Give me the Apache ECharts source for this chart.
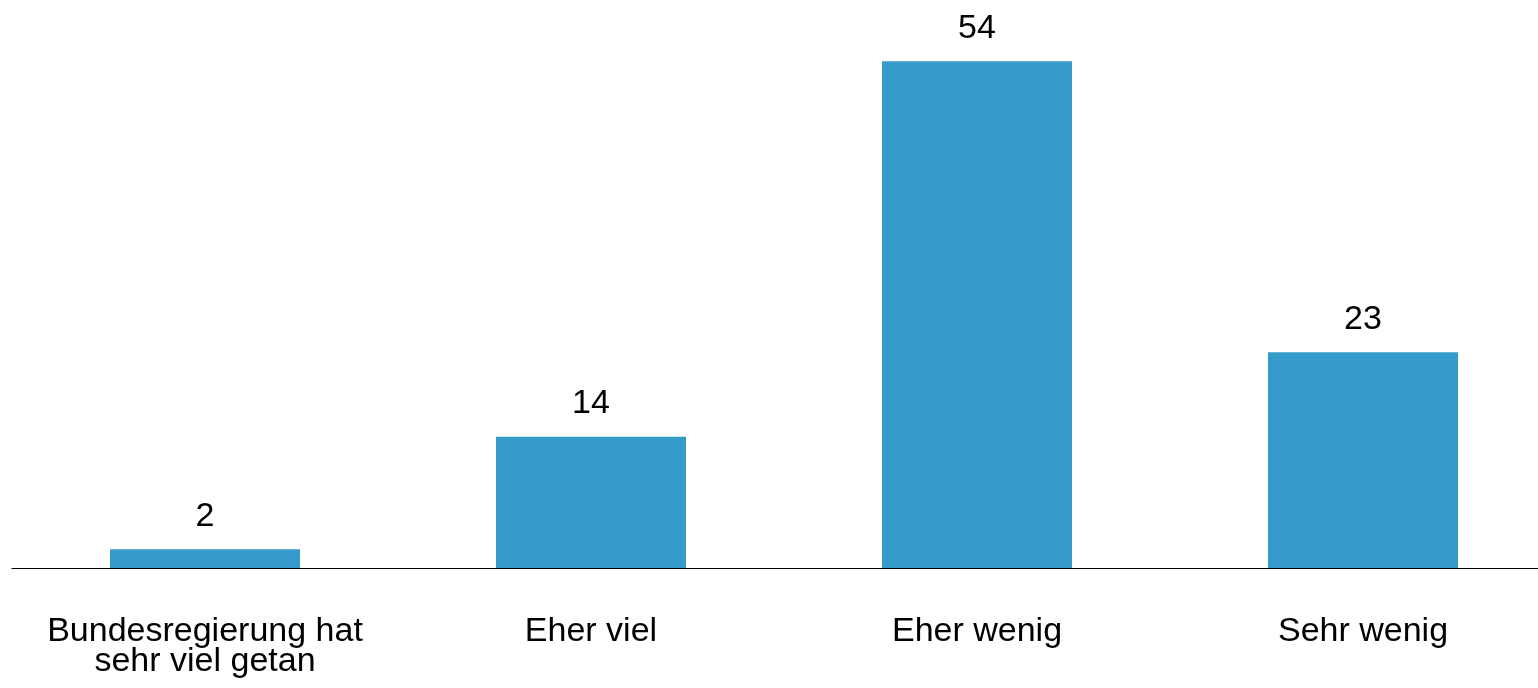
<!DOCTYPE html>
<html>
<head>
<meta charset="utf-8">
<style>
  html, body { margin: 0; padding: 0; background: #ffffff; overflow: hidden; width: 1538px; height: 688px; }
  #chart { width: 1556px; height: 688px; }
</style>
<script src="https://cdn.jsdelivr.net/npm/echarts@6/dist/echarts.min.js"></script>
</head>
<body>
<div id="chart"></div>
<script>
const categories = ["Bundesregierung hat\nsehr viel getan", "Eher viel", "Eher wenig", "Sehr wenig"];
const values = [2, 14, 54, 23];

const chart = echarts.init(document.getElementById('chart'), null, { renderer: 'canvas' });
chart.setOption({
  animation: false,
  backgroundColor: '#ffffff',
  textStyle: { fontFamily: 'Liberation Sans, Arial, sans-serif' },
  grid: { left: 12, right: 0, top: 5, bottom: 120, containLabel: false },
  xAxis: {
    type: 'category',
    data: categories,
    axisLine: { show: true, lineStyle: { color: '#000000', width: 1.2 } },
    axisTick: { show: false },
    axisLabel: {
      interval: 0,
      margin: 49,
      color: '#000000',
      fontSize: 34,
      lineHeight: 30,
      fontFamily: 'Liberation Sans, Arial, sans-serif',
      align: 'center'
    }
  },
  yAxis: {
    type: 'value',
    min: 0,
    max: 60,
    show: false,
    splitLine: { show: false }
  },
  series: [{
    type: 'bar',
    data: values,
    barWidth: 190,
    itemStyle: { color: '#349BCB' },
    label: {
      show: true,
      position: 'top',
      distance: 16,
      color: '#000000',
      fontSize: 34,
      fontFamily: 'Liberation Sans, Arial, sans-serif'
    }
  }]
});
</script>
</body>
</html>
